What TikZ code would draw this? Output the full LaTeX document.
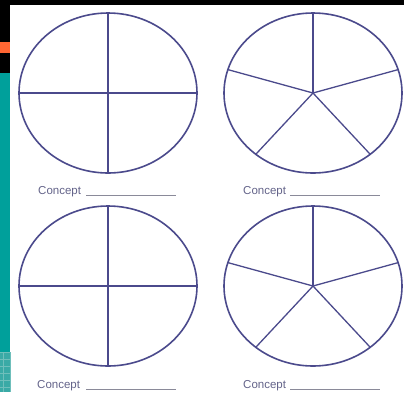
\documentclass[tikz,border=0pt]{standalone}
\usepackage{fontspec}
\setmainfont{Liberation Sans}
\definecolor{ink}{HTML}{4B4A8C}
\definecolor{txt}{HTML}{64648A}
\definecolor{rulec}{HTML}{8A8A99}
\definecolor{tealc}{HTML}{00A09B}
\definecolor{gridc}{HTML}{3AAAA6}
\definecolor{gridl}{HTML}{6FBFBB}
\definecolor{orangec}{HTML}{FF6633}
\begin{document}
\begin{tikzpicture}[x=1pt,y=-1pt,
  ring/.style={draw=ink, line width=1.6pt},
  spoke/.style={draw=ink, line width=1.3pt},
  lbl/.style={text=txt, font=\fontsize{11.5}{13}\selectfont, inner sep=0pt, anchor=base west},
  blank/.style={draw=rulec, line width=1pt}]
\useasboundingbox (0,0) rectangle (404,392);
\fill[white] (0,0) rectangle (404,392);
% frame strips
\fill[black] (0,0) rectangle (404,4.5);
\fill[black] (0,0) rectangle (10,73);
\fill[orangec] (0,42) rectangle (10,53);
\fill[tealc] (0,73) rectangle (10,352);
\fill[gridc] (0,352) rectangle (10,392);
\foreach \yy in {352,359,...,392} \draw[gridl, line width=0.5pt] (0,\yy) -- (10,\yy);
\foreach \xx in {3,10} \draw[gridl, line width=0.5pt] (\xx,352) -- (\xx,392);
% centres
\coordinate (A) at (108,93);
\coordinate (B) at (313,93);
\coordinate (C) at (108,286);
\coordinate (D) at (313,286);
% four-part circles
\foreach \c in {A,C}{
  \draw[ring] (\c) ellipse [x radius=89pt, y radius=80pt];
  \draw[spoke] (\c) ++(90:89pt and 80pt) -- ++(-90:160pt);
  \draw[spoke] (\c) ++(180:89pt and 80pt) -- ++(0:178pt);
}
% five-part circles
\foreach \c in {B,D}{
  \draw[ring] (\c) ellipse [x radius=89pt, y radius=80pt];
  \foreach \a in {90,17,-50,-130,163}
    \draw[spoke] (\c) -- ++(\a:89pt and 80pt);
}
% labels
\node[lbl] (la) at (38,194) {Concept};
\node[lbl] (lb) at (243,194) {Concept};
\node[lbl] (lc) at (37,388) {Concept};
\node[lbl] (ld) at (243,388) {Concept};
\coordinate (a1) at (86,195); \coordinate (a2) at (176,195);
\coordinate (b1) at (290,195); \coordinate (b2) at (380,195);
\coordinate (c1) at (86,389); \coordinate (c2) at (176,389);
\coordinate (d1) at (290,389.5); \coordinate (d2) at (380,389.5);
\draw[blank] (a1) -- (a2);
\draw[blank] (b1) -- (b2);
\draw[blank] (c1) -- (c2);
\draw[blank] (d1) -- (d2);
\end{tikzpicture}
\end{document}
